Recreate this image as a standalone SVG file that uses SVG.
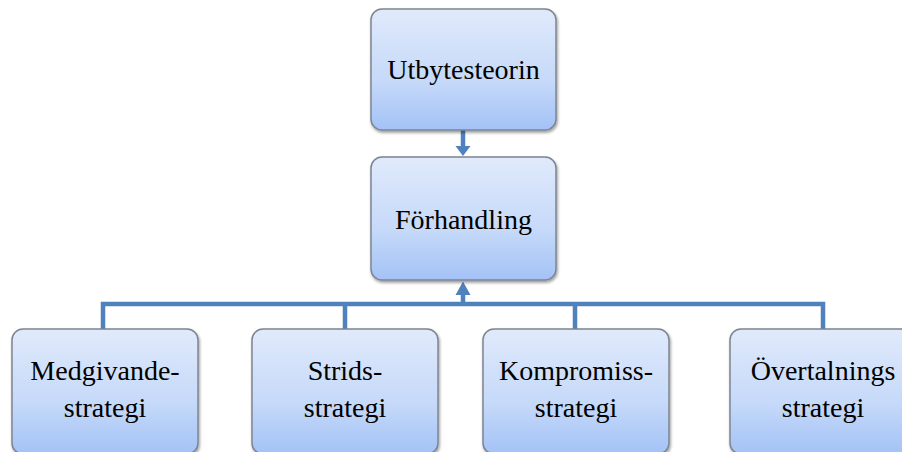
<svg xmlns="http://www.w3.org/2000/svg" width="902" height="452" viewBox="0 0 902 452">
<defs>
<linearGradient id="g" x1="0" y1="0" x2="0" y2="1">
<stop offset="0" stop-color="#e0eafb"/>
<stop offset="0.6" stop-color="#c5d9f9"/>
<stop offset="1" stop-color="#a3c2f6"/>
</linearGradient>
<filter id="sh" x="-10%" y="-10%" width="125%" height="125%">
<feGaussianBlur in="SourceAlpha" stdDeviation="1.5"/>
<feOffset dx="1" dy="2" result="b"/>
<feComponentTransfer><feFuncA type="linear" slope="0.4"/></feComponentTransfer>
<feMerge><feMergeNode/><feMergeNode in="SourceGraphic"/></feMerge>
</filter>
</defs>
<style>
.box{fill:url(#g);stroke:#7d8593;stroke-width:1.5;filter:url(#sh)}
.t{font-family:"Liberation Serif","Times New Roman",serif;font-size:28px;fill:#000;text-anchor:middle}
.c{stroke:#4f81bd;stroke-width:4.5;fill:none}
.h{fill:#4f81bd}
</style>
<g id="connectors">
<path class="c" d="M463,130 L463,147"/>
<polygon class="h" points="455.5,146 470.5,146 463,156"/>
<path class="c" d="M103,329 L103,304 L823,304 L823,329"/>
<path class="c" d="M345,304 L345,329 M575,304 L575,329"/>
<path class="c" d="M463,304 L463,294"/>
<polygon class="h" points="455.5,295 470.5,295 463,281.5"/>
</g>
<g id="utbytesteorin">
<rect class="box" x="371" y="9" width="185" height="121" rx="11"/>
<text class="t" x="463.5" y="79">Utbytesteorin</text>
</g>
<g id="forhandling">
<rect class="box" x="371" y="157" width="185" height="123" rx="11"/>
<text class="t" x="463.5" y="229">Förhandling</text>
</g>
<g id="medgivande">
<rect class="box" x="12" y="329" width="186" height="125" rx="11"/>
<text class="t" x="105" y="380">Medgivande-</text>
<text class="t" x="105" y="417">strategi</text>
</g>
<g id="strids">
<rect class="box" x="252" y="329" width="186" height="125" rx="11"/>
<text class="t" x="345" y="380">Strids-</text>
<text class="t" x="345" y="417">strategi</text>
</g>
<g id="kompromiss">
<rect class="box" x="483" y="329" width="186" height="125" rx="11"/>
<text class="t" x="576" y="380">Kompromiss-</text>
<text class="t" x="576" y="417">strategi</text>
</g>
<g id="overtalnings">
<rect class="box" x="730" y="329" width="186" height="125" rx="11"/>
<text class="t" x="823" y="380">Övertalnings</text>
<text class="t" x="823" y="417">strategi</text>
</g>
</svg>
